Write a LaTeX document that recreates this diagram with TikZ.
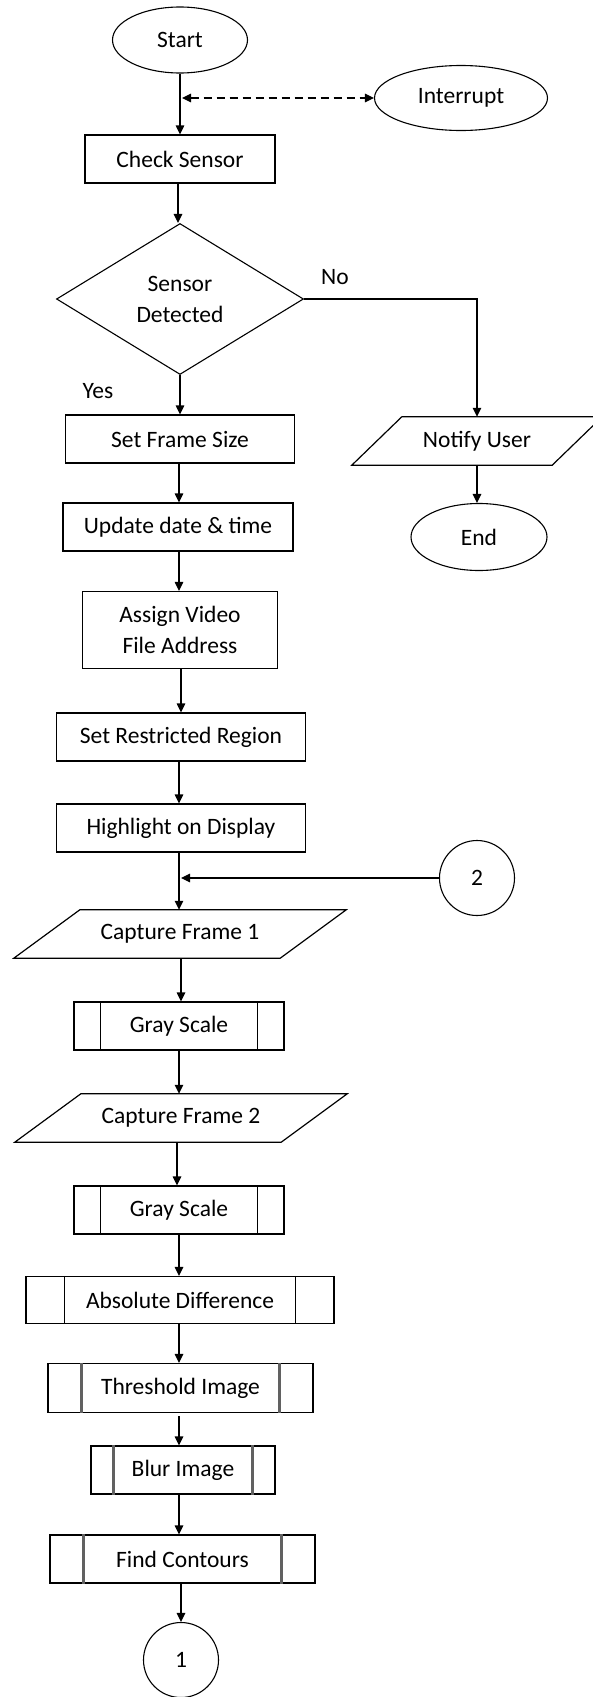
\documentclass[tikz,border=0pt]{standalone}
\usepackage{fontspec}
\setmainfont{Carlito}
\usetikzlibrary{shapes.geometric,arrows.meta,calc}
\newcommand\paraoutline[2]{%
  \draw[line width=1.2pt] ($(#1.north west)+(#2,0)$) -- ($(#1.north east)+(#2,0)$)
    -- ($(#1.south east)+(-#2,0)$) -- ($(#1.south west)+(-#2,0)$) -- cycle;}
\newcommand\subbars[3]{%
  \draw[#3] ($(#1.north west)+(#2,0)$) -- ($(#1.south west)+(#2,0)$);
  \draw[#3] ($(#1.north east)+(-#2,0)$) -- ($(#1.south east)+(-#2,0)$);}
\begin{document}
\begin{tikzpicture}[x=1pt,y=-1pt,
  every node/.style={font=\fontsize{23.5}{31}\selectfont},
  box/.style={draw,line width=1.2pt,minimum height=48pt,inner sep=0pt,align=center},
  term/.style={draw,ellipse,line width=1.1pt,inner sep=0pt},
  conn/.style={draw,circle,line width=1.1pt,minimum size=75pt,inner sep=0pt},
  dec/.style={draw,diamond,line width=1.1pt,inner sep=0pt,minimum width=247pt,minimum height=151pt,align=center},
  io/.style={inner sep=0pt,minimum height=48pt},
  arr/.style={line width=1.2pt,-{Triangle[length=9pt,width=8.5pt]}},
  dash arr/.style={line width=1.1pt,dash pattern=on 8pt off 5pt,{Triangle[length=9pt,width=8.5pt]}-{Triangle[length=9pt,width=8.5pt]}},
  blackbar/.style={line width=1.2pt},
  graybar/.style={line width=2.4pt,draw=black!62},
  lbl/.style={inner sep=0pt}
]
\useasboundingbox (0,0) rectangle (592,1697);

% nodes
\node[term,minimum width=135pt,minimum height=66pt] (start) at (180,40) {Start};
\node[term,minimum width=173pt,minimum height=65pt] (intr) at (461,98) {Interrupt};
\coordinate (tp) at (180,98);
\node[box,minimum width=190pt] (check) at (180,159) {Check Sensor};
\node[dec] (dec) at (180,299) {Sensor\\Detected};
\node[lbl] (no) at (335,277) {No};
\node[lbl] (yes) at (98,391) {Yes};
\node[io,minimum width=200pt] (notify) at (477,441) {Notify User};
\paraoutline{notify}{25}
\node[term,minimum width=136pt,minimum height=67pt] (end) at (479,537) {End};
\node[box,minimum width=229pt] (frame) at (180,439) {Set Frame Size};
\node[box,minimum width=230pt] (upd) at (178,527) {Update date \& time};
\node[box,minimum width=195pt,minimum height=77pt] (assign) at (180,630) {Assign Video\\File Address};
\node[box,minimum width=249pt] (restr) at (181,737) {Set Restricted Region};
\node[box,minimum width=249pt] (hl) at (181,828) {Highlight on Display};
\node[conn] (c2) at (477,878) {2};
\node[io,minimum width=266pt] (cf1) at (180,934) {Capture Frame 1};
\paraoutline{cf1}{33}
\node[box,minimum width=210pt] (gs1) at (179,1026) {Gray Scale};
\subbars{gs1}{27}{blackbar}
\node[io,minimum width=266pt] (cf2) at (181,1118) {Capture Frame 2};
\paraoutline{cf2}{33}
\node[box,minimum width=210pt] (gs2) at (179,1210) {Gray Scale};
\subbars{gs2}{27}{blackbar}
\node[box,minimum width=308pt,minimum height=47pt] (absd) at (180,1300) {Absolute Difference};
\subbars{absd}{39}{blackbar}
\node[box,minimum width=265pt,minimum height=49pt] (thr) at (180.5,1388) {Threshold Image};
\subbars{thr}{34}{graybar}
\node[box,minimum width=184pt] (blur) at (183,1470) {Blur Image};
\subbars{blur}{23}{graybar}
\node[box,minimum width=265pt] (find) at (182.5,1559) {Find Contours};
\subbars{find}{34}{graybar}
\node[conn] (c1) at (181,1660) {1};

% connectors
\draw[arr] (start.south) -- (start.south |- check.north);
\draw[dash arr] ($(tp)+(2,0)$) -- (intr.west);
\draw[arr] (check.south -| 178,0) -- (dec.north -| 178,0);
\draw[arr] (dec.south) -- (dec.south |- frame.north);
\draw[arr] (dec.east) -| (notify.north);
\draw[arr] (notify.south) -- (notify.south |- end.north);
\draw[arr] (frame.south -| 179,0) -- (upd.north -| 179,0);
\draw[arr] (upd.south -| 179,0) -- (assign.north -| 179,0);
\draw[arr] (assign.south -| 181,0) -- (restr.north -| 181,0);
\draw[arr] (restr.south -| 179,0) -- (hl.north -| 179,0);
\draw[arr] (hl.south -| 179,0) -- (cf1.north -| 179,0);
\draw[arr] (c2.west) -- ($(c2.west -| 179,0)+(2,0)$);
\draw[arr] (cf1.south -| 181,0) -- (gs1.north -| 181,0);
\draw[arr] (gs1.south -| 179,0) -- (cf2.north -| 179,0);
\draw[arr] (cf2.south -| 177,0) -- (gs2.north -| 177,0);
\draw[arr] (gs2.south -| 179,0) -- (absd.north -| 179,0);
\draw[arr] (absd.south -| 179,0) -- (thr.north -| 179,0);
\draw[arr] ($(thr.south -| 179,0)+(0,3)$) -- (blur.north -| 179,0);
\draw[arr] (blur.south -| 179,0) -- (find.north -| 179,0);
\draw[arr] (find.south -| 181,0) -- (c1.north -| 181,0);
\end{tikzpicture}
\end{document}
